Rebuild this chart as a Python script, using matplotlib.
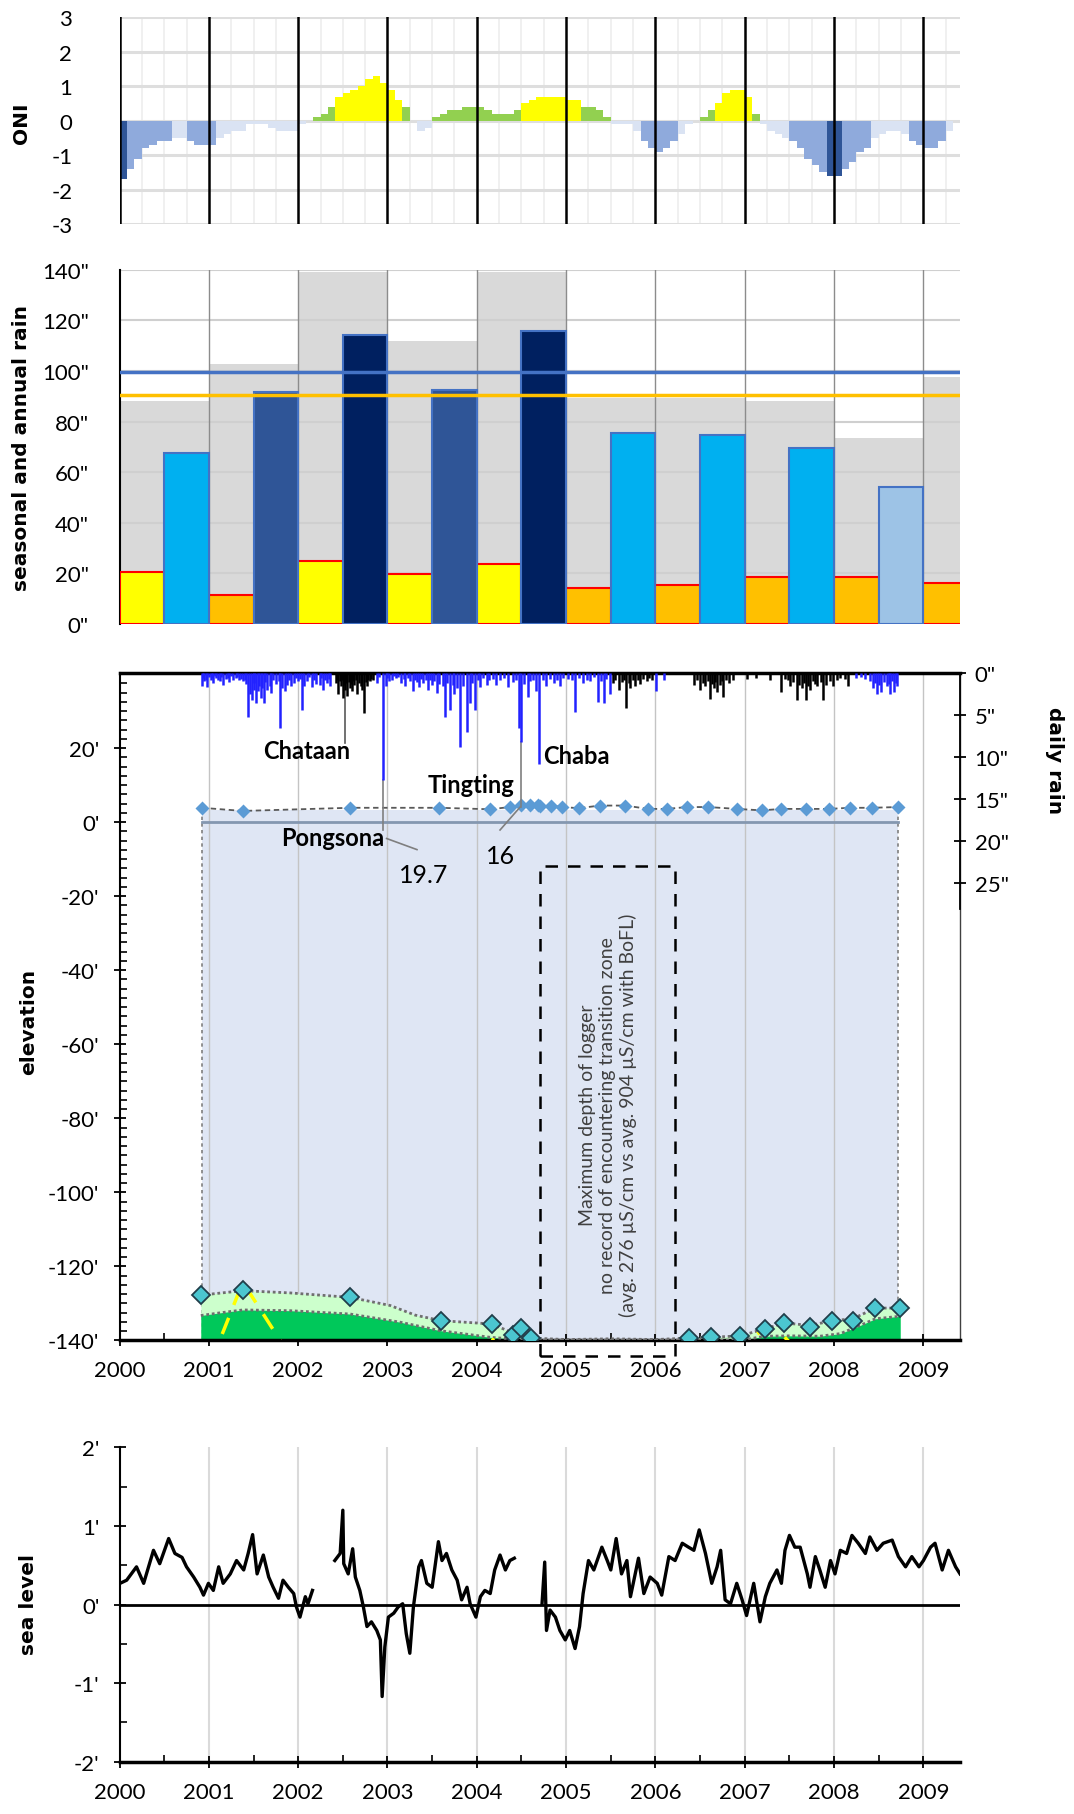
import numpy as np
import matplotlib.pyplot as plt
from matplotlib.patches import Rectangle

plt.rcParams['font.family'] = ['Lato', 'DejaVu Sans']

# ---------------- data ----------------
# ONI, monthly from Jan 2000
oni_vals = [
    -1.7, -1.4, -1.1, -0.8, -0.7, -0.6, -0.6, -0.5, -0.5, -0.6, -0.7, -0.7,
    -0.7, -0.5, -0.4, -0.3, -0.3, -0.1, -0.1, -0.1, -0.2, -0.3, -0.3, -0.3,
    -0.1, 0.0, 0.1, 0.2, 0.4, 0.7, 0.8, 0.9, 1.0, 1.2, 1.3, 1.1,
    0.9, 0.6, 0.4, 0.0, -0.3, -0.2, 0.1, 0.2, 0.3, 0.3, 0.4, 0.4,
    0.4, 0.3, 0.2, 0.2, 0.2, 0.3, 0.5, 0.6, 0.7, 0.7, 0.7, 0.7,
    0.6, 0.6, 0.4, 0.4, 0.3, 0.1, -0.1, -0.1, -0.1, -0.3, -0.6, -0.8,
    -0.9, -0.8, -0.6, -0.4, -0.1, 0.0, 0.1, 0.3, 0.5, 0.8, 0.9, 0.9,
    0.7, 0.2, -0.1, -0.3, -0.4, -0.5, -0.6, -0.8, -1.1, -1.3, -1.5, -1.6,
    -1.6, -1.4, -1.2, -0.9, -0.8, -0.5, -0.4, -0.3, -0.3, -0.4, -0.6, -0.7,
    -0.8, -0.8, -0.6, -0.3, 0.0, 0.3,
]

# seasonal and annual rain (inches)
years = [2000, 2001, 2002, 2003, 2004, 2005, 2006, 2007, 2008, 2009]
annual_rain = [88.3, 102.8, 139.3, 112.0, 139.3, 89.5, 89.5, 88.2, 73.7, 97.5]
dry_rain = [20.7, 11.5, 24.8, 19.8, 23.6, 14.2, 15.3, 18.8, 18.8, 16.2]
wet_rain = [67.6, 91.6, 114.4, 92.5, 115.8, 75.4, 74.7, 69.7, 54.3]
ref_blue = 99.8
ref_yellow = 90.5
dry_colors = ['#FFFF00', '#FFC000', '#FFFF00', '#FFFF00', '#FFFF00',
              '#FFC000', '#FFC000', '#FFC000', '#FFC000', '#FFC000']
wet_colors = ['#00B0F0', '#2F5597', '#002060', '#2F5597', '#002060',
              '#00B0F0', '#00B0F0', '#00B0F0', '#9DC3E6']

# daily rain (inches)
blue_dates = [2000.92, 2000.95, 2000.98, 2001.02, 2001.05, 2001.08, 2001.12, 2001.16, 2001.19,
              2001.23, 2001.27, 2001.30, 2001.34, 2001.38, 2001.42, 2001.44, 2001.46, 2001.48,
              2001.50, 2001.53, 2001.55, 2001.58, 2001.60, 2001.62, 2001.65, 2001.68, 2001.70,
              2001.80, 2001.82, 2001.85, 2001.88, 2001.92, 2001.95, 2002.00, 2002.04, 2002.07,
              2002.10, 2002.15, 2002.20, 2002.24, 2002.28, 2002.32, 2002.36,
              2002.88, 2002.95, 2002.98, 2003.02, 2003.05, 2003.10, 2003.15, 2003.20, 2003.25,
              2003.28, 2003.35, 2003.40, 2003.45, 2003.50, 2003.55, 2003.645, 2003.70, 2003.75,
              2003.81, 2003.89, 2003.925, 2003.98, 2004.04, 2004.11, 2004.22, 2004.35, 2004.47,
              2004.50, 2004.57, 2004.66, 2004.70, 2004.78, 2004.86, 2004.93, 2005.10, 2005.19,
              2005.27, 2005.36, 2005.42, 2005.49, 2006.01, 2006.09,
              2008.25, 2008.40, 2008.44, 2008.48, 2008.53, 2008.59, 2008.63, 2008.67, 2008.70,
              2000.935, 2000.965, 2001.00, 2001.035, 2001.065, 2001.10, 2001.14, 2001.21, 2001.25,
              2001.32, 2001.36, 2001.40, 2001.51, 2001.565, 2001.63, 2001.72, 2001.75, 2001.78,
              2001.90, 2001.98, 2002.02, 2002.12, 2002.18, 2002.26, 2002.30, 2002.34,
              2002.90, 2003.00, 2003.07, 2003.12, 2003.18, 2003.23, 2003.31, 2003.33, 2003.38,
              2003.43, 2003.48, 2003.52, 2003.58, 2003.62, 2003.67, 2003.73, 2003.78, 2003.85,
              2003.95, 2004.01, 2004.07, 2004.14, 2004.18, 2004.26, 2004.30, 2004.40, 2004.44,
              2004.53, 2004.60, 2004.63, 2004.74, 2004.82, 2004.90, 2004.97, 2005.02, 2005.06,
              2005.14, 2005.23, 2005.31, 2005.39, 2005.45,
              2008.30, 2008.35, 2008.46, 2008.50, 2008.56, 2008.61, 2008.65, 2008.69]
blue_inches = [1.5, 1.0, 1.7, 0.8, 1.2, 0.6, 1.0, 1.4, 0.7,
               1.1, 0.9, 0.6, 0.8, 1.0, 1.3, 5.2, 2.5, 3.2,
               2.0, 3.6, 2.2, 3.0, 1.8, 3.6, 2.0, 1.5, 2.4,
               6.6, 1.8, 2.2, 1.4, 1.6, 1.2, 1.0, 4.4, 1.6,
               1.0, 1.7, 1.3, 1.4, 2.0, 1.2, 1.6,
               1.2, 12.7, 1.5, 1.0, 0.8, 0.6, 1.2, 1.5, 1.0,
               2.2, 1.7, 1.2, 2.0, 1.4, 2.4, 5.2, 4.4, 2.5,
               8.8, 7.0, 3.6, 4.4, 1.7, 1.4, 1.4, 1.7, 6.6,
               8.2, 2.9, 2.2, 10.8, 1.5, 1.2, 1.6, 4.6, 1.2,
               1.0, 3.4, 3.6, 2.5, 2.1, 0.8,
               0.6, 1.0, 1.8, 2.5, 2.3, 1.6, 2.5, 2.3, 1.5,
               0.6, 0.8, 0.5, 0.6, 0.4, 0.8, 0.5, 0.6, 0.4,
               0.5, 0.7, 0.9, 1.2, 1.5, 1.1, 0.9, 1.3, 1.0,
               0.8, 0.6, 0.7, 0.5, 0.8, 0.6, 0.9, 0.7,
               0.5, 0.6, 0.4, 0.5, 0.7, 0.6, 0.9, 1.1, 0.7,
               0.9, 0.8, 1.0, 1.3, 1.6, 1.2, 1.4, 1.8, 1.5,
               1.2, 0.8, 0.6, 0.9, 0.7, 0.8, 0.6, 1.1, 0.9,
               1.3, 1.0, 0.8, 0.9, 0.7, 0.8, 0.6, 0.7, 0.9,
               0.6, 0.8, 0.5, 1.0, 0.7,
               0.5, 0.7, 1.2, 1.4, 1.1, 1.3, 1.0, 1.2]
black_dates = [2002.42, 2002.45, 2002.48, 2002.50, 2002.52, 2002.55, 2002.58, 2002.60, 2002.63,
               2002.66, 2002.74, 2002.72, 2002.77, 2002.80, 2002.84,
               2005.53, 2005.59, 2005.67, 2005.72, 2005.77, 2005.83, 2005.90, 2005.96,
               2006.43, 2006.50, 2006.56, 2006.61, 2006.65, 2006.69, 2006.76, 2006.82, 2006.87,
               2007.02, 2007.13, 2007.28, 2007.40, 2007.51, 2007.58, 2007.64, 2007.68, 2007.73,
               2007.81, 2007.88, 2007.99, 2008.07, 2008.16,
               2002.43, 2002.465, 2002.49, 2002.51, 2002.535, 2002.565, 2002.59, 2002.615, 2002.645,
               2002.68, 2002.70, 2002.755, 2002.785, 2002.82,
               2005.55, 2005.62, 2005.65, 2005.70, 2005.75, 2005.80, 2005.86, 2005.93,
               2006.46, 2006.53, 2006.59, 2006.63, 2006.67, 2006.72, 2006.74, 2006.79,
               2007.45, 2007.48, 2007.54, 2007.61, 2007.66, 2007.71, 2007.76, 2007.79, 2007.85,
               2007.91, 2007.95, 2008.03, 2008.12]
black_inches = [1.2, 2.5, 1.5, 3.0, 2.0, 2.8, 1.8, 2.2, 1.4,
                2.5, 4.8, 2.0, 1.6, 1.0, 0.8,
                1.2, 2.0, 4.2, 1.8, 1.5, 1.3, 1.0, 0.8,
                1.4, 2.0, 1.6, 3.1, 1.8, 2.3, 2.9, 1.2, 0.8,
                0.7, 0.6, 0.8, 2.3, 1.5, 3.2, 1.8, 3.2, 2.0,
                1.5, 3.2, 1.6, 0.6, 1.6,
                0.8, 1.0, 0.9, 1.4, 1.2, 1.1, 1.3, 1.0, 0.9,
                1.2, 1.5, 1.1, 0.9, 0.7,
                0.8, 1.1, 0.9, 1.2, 0.8, 0.9, 0.7, 0.6,
                0.9, 1.2, 1.0, 1.3, 1.1, 1.4, 1.0, 0.8,
                0.7, 0.9, 1.1, 1.4, 1.2, 1.5, 1.0, 1.3, 1.1,
                1.4, 1.0, 0.8, 0.7]

# water level at top of the lens (ft)
top_dates = [2000.92, 2001.38, 2002.58, 2003.58, 2004.15, 2004.37, 2004.49, 2004.60, 2004.69,
             2004.71, 2004.83, 2004.95, 2005.14, 2005.38, 2005.66, 2005.92, 2006.13, 2006.35,
             2006.59, 2006.91, 2007.19, 2007.41, 2007.69, 2007.94, 2008.18, 2008.42, 2008.71]
top_elev = [3.9, 3.05, 3.9, 3.9, 3.5, 4.1, 4.6, 4.6, 4.6,
            4.3, 4.5, 4.1, 3.8, 4.5, 4.5, 3.6, 3.6, 4.1,
            4.1, 3.6, 3.2, 3.6, 3.6, 3.6, 3.9, 3.9, 4.1]
lens_top = 3.2

# transition zone (ft)
tz_dates = [2000.91, 2001.38, 2002.58, 2003.60, 2004.17, 2004.40, 2004.50, 2004.61,
            2006.37, 2006.62, 2006.95, 2007.23, 2007.44, 2007.73, 2007.98, 2008.21, 2008.46, 2008.74]
tz_elev = [-127.8, -126.4, -128.4, -134.7, -135.6, -138.5, -136.8, -139.4,
           -139.4, -139.2, -138.8, -136.9, -135.3, -136.5, -134.7, -134.7, -131.3, -131.3]
upper_dates = [2000.91, 2001.38, 2001.91, 2002.58, 2003.03, 2003.31, 2003.60, 2004.17, 2004.40,
               2004.61, 2005.00, 2005.50, 2006.00, 2006.37, 2006.62, 2006.95, 2007.23, 2007.44,
               2007.73, 2007.98, 2008.21, 2008.46, 2008.74]
upper_elev = [-127.8, -126.6, -127.2, -128.4, -130.6, -133.2, -134.7, -135.6, -138.0,
              -139.4, -139.8, -139.6, -139.8, -139.4, -139.2, -138.8, -136.9, -135.3,
              -136.0, -134.7, -134.2, -131.3, -131.3]
lower_dates = [2000.91, 2001.12, 2001.38, 2001.91, 2002.58, 2003.14, 2003.59, 2004.15, 2004.60,
               2006.95, 2007.23, 2007.51, 2007.84, 2008.07, 2008.29, 2008.46, 2008.74]
lower_elev = [-133.3, -132.6, -131.8, -132.0, -132.9, -135.1, -137.4, -139.2, -140.0,
              -140.0, -138.9, -138.8, -138.9, -138.2, -136.0, -134.2, -133.5]
yellow_dates = [2001.15, 2001.38, 2001.85, 2004.12, 2004.18, 2004.25, 2006.92, 2007.23, 2007.42, 2007.60]
yellow_elev = [-138.3, -124.3, -142.0, -143.0, -139.8, -143.0, -141.9, -136.8, -138.5, -143.0]

# sea level (ft)
sea_dates = [2000.006, 2000.08, 2000.19, 2000.27, 2000.38, 2000.45, 2000.55, 2000.62, 2000.70,
             2000.75, 2000.83, 2000.90, 2000.94, 2000.995, 2001.05, 2001.11, 2001.16, 2001.24,
             2001.31, 2001.39, 2001.44, 2001.49, 2001.54, 2001.61, 2001.67, 2001.72, 2001.78,
             2001.83, 2001.89, 2001.95, 2001.98, 2002.02, 2002.08, 2002.11, 2002.16,
             np.nan,
             2002.41, 2002.47, 2002.50, 2002.51, 2002.56, 2002.61, 2002.64, 2002.69, 2002.73,
             2002.77, 2002.82, 2002.88, 2002.92, 2002.94, 2002.97, 2003.01, 2003.07, 2003.12,
             2003.17, 2003.21, 2003.25, 2003.29, 2003.35, 2003.38, 2003.44, 2003.50, 2003.57,
             2003.61, 2003.66, 2003.72, 2003.78, 2003.83, 2003.89, 2003.925, 2003.99, 2004.04,
             2004.09, 2004.15, 2004.20, 2004.26, 2004.32, 2004.37, 2004.42,
             np.nan,
             2004.73, 2004.76, 2004.78, 2004.82, 2004.88, 2004.93, 2004.99, 2005.04, 2005.10,
             2005.15, 2005.19, 2005.25, 2005.31, 2005.40, 2005.46, 2005.50, 2005.56, 2005.62,
             2005.68, 2005.72, 2005.81, 2005.87, 2005.94, 2006.02, 2006.07, 2006.15, 2006.22,
             2006.30, 2006.37, 2006.43, 2006.49, 2006.56, 2006.63, 2006.69, 2006.73, 2006.78,
             2006.84, 2006.91, 2006.97, 2007.02, 2007.10, 2007.17, 2007.23, 2007.28, 2007.36,
             2007.41, 2007.45, 2007.50, 2007.56, 2007.62, 2007.70, 2007.73, 2007.79, 2007.84,
             2007.90, 2007.96, 2008.01, 2008.07, 2008.14, 2008.20, 2008.27, 2008.35, 2008.40,
             2008.48, 2008.55, 2008.65, 2008.72, 2008.80, 2008.87, 2008.95, 2009.00, 2009.08,
             2009.13, 2009.21, 2009.28, 2009.36, 2009.41]
sea_level = [0.27, 0.31, 0.48, 0.27, 0.69, 0.52, 0.84, 0.65, 0.60,
             0.48, 0.35, 0.22, 0.12, 0.27, 0.18, 0.48, 0.27, 0.39,
             0.56, 0.44, 0.65, 0.89, 0.39, 0.63, 0.35, 0.22, 0.08,
             0.31, 0.22, 0.14, -0.03, -0.16, 0.10, 0.01, 0.18,
             np.nan,
             0.56, 0.65, 1.20, 0.52, 0.39, 0.71, 0.35, 0.18, -0.03,
             -0.28, -0.22, -0.33, -0.45, -1.17, -0.54, -0.16, -0.11, -0.03,
             0.01, -0.37, -0.62, -0.03, 0.48, 0.56, 0.27, 0.22, 0.80,
             0.56, 0.65, 0.44, 0.31, 0.06, 0.22, 0.01, -0.16, 0.10,
             0.18, 0.14, 0.44, 0.63, 0.44, 0.56, 0.59,
             np.nan,
             0.01, 0.54, -0.33, -0.07, -0.16, -0.33, -0.45, -0.33, -0.56,
             -0.28, 0.14, 0.56, 0.44, 0.73, 0.56, 0.44, 0.84, 0.39,
             0.56, 0.10, 0.59, 0.14, 0.35, 0.27, 0.12, 0.61, 0.56,
             0.78, 0.73, 0.69, 0.95, 0.65, 0.27, 0.48, 0.69, 0.06,
             0.01, 0.27, 0.06, -0.14, 0.27, -0.22, 0.10, 0.27, 0.44,
             0.27, 0.69, 0.88, 0.73, 0.73, 0.39, 0.22, 0.61, 0.44,
             0.22, 0.56, 0.39, 0.69, 0.65, 0.88, 0.78, 0.65, 0.86,
             0.69, 0.78, 0.82, 0.61, 0.48, 0.61, 0.48, 0.56, 0.73,
             0.78, 0.44, 0.69, 0.48, 0.39]

# ---------------- figure ----------------
fig = plt.figure(figsize=(10.74, 18.15), dpi=100)
L, W = 0.1113, 0.7826
x0, x1 = 2000, 2009.41
tick_fs = 16
lab_kw = dict(fontsize=14.5, fontweight='bold', family='DejaVu Sans')

# --- ONI ---
ax1 = fig.add_axes([L, 0.876, W, 0.1139])
oni = np.array(oni_vals)
oni_x = 2000 + np.arange(len(oni)) / 12
oni_colors = []
for v in oni:
    if v < -1.5:
        oni_colors.append('#2F5597')
    elif v < -0.5:
        oni_colors.append('#8FAADC')
    elif v < 0:
        oni_colors.append('#DAE3F3')
    elif v < 0.5:
        oni_colors.append('#92D050')
    else:
        oni_colors.append('#FFFF00')
for q in np.arange(2000.25, 2009.41, 0.25):
    if q % 1 != 0:
        ax1.axvline(q, color='#EEEEEE', lw=1.2, zorder=0)
for v in range(-3, 4):
    ax1.axhline(v, color='#DEDEDE', lw=2.2, zorder=0)
ax1.bar(oni_x, oni, width=1 / 12, align='edge', color=oni_colors, lw=0, zorder=2)
for yr in range(2000, 2010):
    ax1.axvline(yr, color='black', lw=1.8, zorder=3)
ax1.set_xlim(x0, x1)
ax1.set_ylim(-3, 3)
ax1.set_yticks(range(-3, 4))
ax1.set_yticklabels([str(v) for v in range(-3, 4)])
ax1.set_xticks([])
ax1.tick_params(axis='y', length=0, labelsize=tick_fs, pad=34)
for s in ax1.spines.values():
    s.set_visible(False)
fig.text(0.02, 0.932, 'ONI', rotation=90, ha='center', va='center', **lab_kw)

# --- seasonal / annual rain ---
ax2 = fig.add_axes([L, 0.6556, W, 0.1952])
ax2.bar(years, annual_rain, width=1, align='edge', color='#D9D9D9', lw=0, zorder=1)
for v in range(20, 141, 20):
    ax2.axhline(v, color='#CFCFCF', lw=1.5, zorder=1.5)
for yr in range(2001, 2010):
    ax2.axvline(yr, color='#8C8C8C', lw=1, zorder=1.6)
ax2.bar(years, dry_rain, width=0.5, align='edge', color=dry_colors,
        edgecolor='#FF0000', lw=1.5, zorder=3)
ax2.bar(np.array(years[:9]) + 0.5, wet_rain, width=0.5, align='edge', color=wet_colors,
        edgecolor='#4472C4', lw=1.5, zorder=3)
ax2.axhline(ref_blue, color='#4472C4', lw=2.5, zorder=4)
ax2.axhline(ref_yellow, color='#FFC000', lw=2.5, zorder=4)
ax2.set_xlim(x0, x1)
ax2.set_ylim(0, 140)
ax2.set_yticks(range(0, 141, 20))
ax2.set_yticklabels([f'{v}"' for v in range(0, 141, 20)])
ax2.set_xticks([])
ax2.tick_params(axis='y', length=0, labelsize=tick_fs, pad=22)
for k in ['top', 'right', 'bottom']:
    ax2.spines[k].set_visible(False)
ax2.spines['left'].set_linewidth(1.5)
fig.text(0.02, 0.753, 'seasonal and annual rain', rotation=90, ha='center', va='center', **lab_kw)

# --- elevation ---
ax3 = fig.add_axes([L, 0.261, W, 0.3677])
ax3.set_xlim(x0, x1)
ax3.set_ylim(-140, 40.35)
ax3.fill_between([top_dates[0], top_dates[-1]], -140, lens_top, color='#DFE6F4', lw=0, zorder=1)
for d in [top_dates[0], top_dates[-1]]:
    ax3.plot([d, d], [-140, lens_top], color='#7F7F7F', lw=1.2, ls=(0, (2, 2)), zorder=1.2)
for yr in range(2001, 2010):
    ax3.axvline(yr, color='#C4C4C4', lw=1, zorder=1.5)
ax3.plot([top_dates[0], top_dates[-1]], [0, 0], color='#8497B0', lw=2, zorder=2)
ax3.plot(top_dates, top_elev, color='#595959', lw=1.3, ls=(0, (3, 2)), zorder=3)
ax3.plot(top_dates, top_elev, 'D', ms=7.5, color='#5B9BD5', mec='none', zorder=4)

ax3.fill_between(upper_dates, -140, upper_elev, color='#CCFFCC', lw=0, zorder=2)
ax3.fill_between(lower_dates, -140, lower_elev, color='#00C85A', lw=0, zorder=2.5)
ax3.plot(upper_dates, upper_elev, color='#6F6F6F', lw=2, ls=(0, (1, 1)), zorder=3)
ax3.plot(lower_dates, lower_elev, color='#6F6F6F', lw=2, ls=(0, (1, 1)), zorder=3)
ax3.plot(yellow_dates, yellow_elev, color='#FFFF00', lw=2.5, ls=(0, (5, 4)), zorder=3.5)
ax3.plot(tz_dates, tz_elev, 'D', ms=9.5, mfc='#4BC6D0', mec='#203E4A', mew=1.3, zorder=5)

ax3.add_patch(Rectangle((2004.71, -144.2), 1.51, 132.3, fill=False, ls=(0, (5, 4)),
                        lw=1.8, ec='black', clip_on=False, zorder=6))
ax3.text(2005.47, -79, 'Maximum depth of logger\nno record of encountering transition zone\n'
         '(avg. 276 µS/cm vs avg. 904 µS/cm with BoFL)', rotation=90, ha='center',
         va='center', fontsize=14, color='#404040', linespacing=1.2, zorder=6)

ann_kw = dict(fontsize=17, fontweight='bold', ha='center', va='center', zorder=7)
ax3.text(2002.09, 19.5, 'Chataan', **ann_kw)
ax3.text(2002.39, -4.2, 'Pongsona', **ann_kw)
ax3.text(2003.93, 10.1, 'Tingting', **ann_kw)
ax3.text(2005.12, 17.9, 'Chaba', **ann_kw)
ax3.text(2003.40, -14.0, '19.7', fontsize=18, ha='center', va='center', zorder=7)
ax3.text(2004.27, -9.0, '16', fontsize=18, ha='center', va='center', zorder=7)
ax3.plot([2002.99, 2003.33], [-4.4, -7.4], color='#7F7F7F', lw=1.2, zorder=6)
ax3.plot([2004.485, 2004.26], [4.1, -2.1], color='#7F7F7F', lw=1.2, zorder=6)

ax3.set_xticks(range(2000, 2010))
ax3.set_xticklabels([str(y) for y in range(2000, 2010)])
ax3.set_xticks(np.arange(2000.5, 2009.5, 1), minor=True)
ax3.set_yticks(range(-140, 21, 20))
ax3.set_yticklabels([f"{v}'" for v in range(-140, 21, 20)])
ax3.set_yticks(np.arange(-140, 40, 2.5), minor=True)
ax3.tick_params(axis='both', which='major', direction='inout', length=9, width=1.3,
                labelsize=tick_fs)
ax3.tick_params(axis='y', which='major', pad=10)
ax3.tick_params(axis='x', which='major', pad=10)
ax3.tick_params(axis='both', which='minor', direction='in', length=5, width=1.2)
ax3.spines['top'].set_linewidth(2.5)
ax3.spines['bottom'].set_linewidth(2.5)
ax3.spines['left'].set_linewidth(1.5)
ax3.spines['right'].set_linewidth(1)
ax3.spines['right'].set_color('#404040')
fig.text(0.027, 0.437, 'elevation', rotation=90, ha='center', va='center', **lab_kw)

# daily rain on a reversed secondary axis
ax3r = ax3.twinx()
ax3r.set_ylim(79.25, 0)
ax3r.vlines(blue_dates, 0, blue_inches, color='#2222FF', lw=1.8, zorder=3)
ax3r.vlines(black_dates, 0, black_inches, color='black', lw=1.8, zorder=3)
ax3r.plot([2002.525, 2002.525], [0.2, 8.3], color='#595959', lw=1.2)
ax3r.plot([2002.95, 2002.95], [12.7, 18.7], color='#7F7F7F', lw=1.2)
ax3r.plot([2004.50, 2004.50], [8.2, 15.9], color='#7F7F7F', lw=1.2)
ax3r.set_yticks(range(0, 26, 5))
ax3r.set_yticklabels([f'{v}"' for v in range(0, 26, 5)])
ax3r.tick_params(axis='y', direction='inout', length=9, width=1.3, labelsize=tick_fs, pad=6)
ax3r.spines['right'].set_bounds(0, 28)
ax3r.spines['right'].set_linewidth(1.3)
for k in ['top', 'left', 'bottom']:
    ax3r.spines[k].set_visible(False)
fig.text(0.982, 0.581, 'daily rain', rotation=270, ha='center', va='center', **lab_kw)

# --- sea level ---
ax4 = fig.add_axes([L, 0.0288, W, 0.1732])
for yr in range(2001, 2010):
    ax4.axvline(yr, color='#DADADA', lw=1.5, zorder=0)
ax4.axhline(0, color='black', lw=2, zorder=1)
ax4.plot(sea_dates, sea_level, color='black', lw=2.4, zorder=2)
ax4.set_xlim(x0, x1)
ax4.set_ylim(-2, 2)
ax4.set_yticks(range(-2, 3))
ax4.set_yticklabels([f"{v}'" for v in range(-2, 3)])
ax4.set_yticks(np.arange(-2, 2.1, 0.5), minor=True)
ax4.set_xticks(range(2000, 2010))
ax4.set_xticklabels([str(y) for y in range(2000, 2010)])
ax4.set_xticks(np.arange(2000.5, 2009.5, 1), minor=True)
ax4.tick_params(axis='both', which='major', direction='inout', length=9, width=1.3,
                labelsize=tick_fs)
ax4.tick_params(axis='y', which='major', pad=10)
ax4.tick_params(axis='x', which='major', pad=10)
ax4.tick_params(axis='both', which='minor', direction='in', length=5, width=1.2)
ax4.spines['top'].set_visible(False)
ax4.spines['right'].set_visible(False)
ax4.spines['bottom'].set_linewidth(2.5)
ax4.spines['left'].set_linewidth(1.5)
fig.text(0.027, 0.116, 'sea level', rotation=90, ha='center', va='center', **lab_kw)

fig.savefig('out.png', dpi=100)
